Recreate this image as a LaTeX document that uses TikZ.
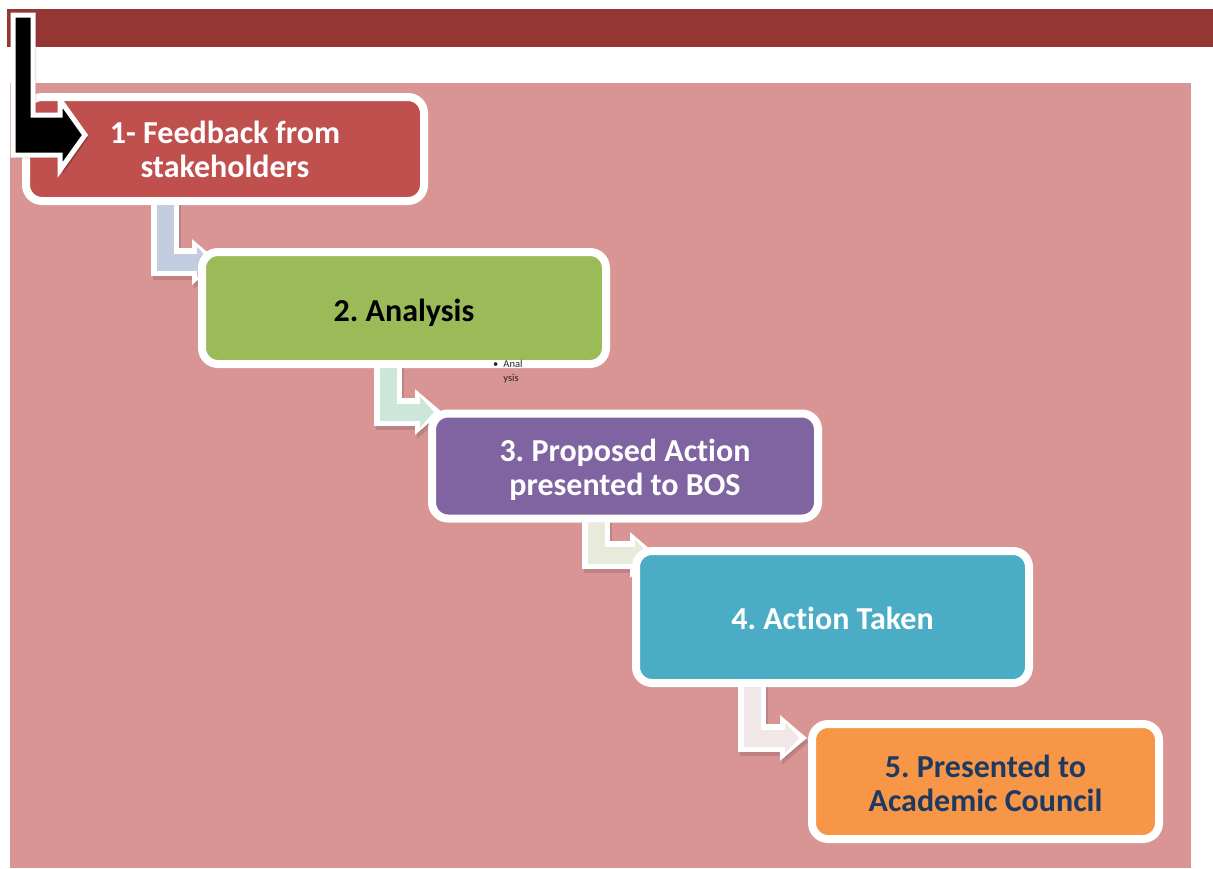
\documentclass[tikz,border=0pt]{standalone}
\usepackage{fontspec}
\setmainfont{Carlito}[Ligatures={NoCommon}]
\usetikzlibrary{arrows.meta,shadows}
\frenchspacing
\definecolor{barred}{HTML}{943634}
\definecolor{bgpink}{HTML}{D99594}
\definecolor{cA}{HTML}{C0504D}
\definecolor{cB}{HTML}{9BBB59}
\definecolor{cC}{HTML}{8064A2}
\definecolor{cD}{HTML}{4BACC6}
\definecolor{cE}{HTML}{F79646}
\definecolor{navy}{HTML}{1F3A60}
\definecolor{kA}{HTML}{C3CDE0}
\definecolor{kB}{HTML}{CDE6DA}
\definecolor{kC}{HTML}{E8EADB}
\definecolor{kD}{HTML}{F2E7E7}
\tikzset{
  stepbox/.style={rounded corners=16pt, draw=white, line width=8pt, inner sep=0pt,
    drop shadow={opacity=0.35, shadow xshift=1pt, shadow yshift=-4pt}},
  steptext/.style={align=center, inner sep=0pt, font=\bfseries\fontsize{32}{34}\selectfont},
  connout/.style={line width=28pt, white, -{Triangle[length=27pt,width=44pt]}},
  connshd/.style={line width=28pt, black, opacity=0.12, -{Triangle[length=27pt,width=44pt]}},
  connin/.style={line width=17pt, -{Triangle[length=14pt,width=30pt]}, shorten >=8pt},
}
\begin{document}
\begin{tikzpicture}[x=1pt,y=-1pt]
\useasboundingbox (0,0) rectangle (1213,868);
\fill[white] (0,0) rectangle (1213,868);
\fill[barred] (7,9) rectangle (1213,47);
\fill[bgpink] (10,83) rectangle (1191,868);

% connector coordinates
\coordinate (s1) at (165,195);  \coordinate (t1) at (219,262);
\coordinate (s2) at (388,360);  \coordinate (t2) at (442,412);
\coordinate (s3) at (596,515);  \coordinate (t3) at (657,555);
\coordinate (s4) at (752,680);  \coordinate (t4) at (807,738);

% connectors
\foreach \s/\t/\c in {s1/t1/kA, s2/t2/kB, s3/t3/kC, s4/t4/kD}{
  \draw[connshd] ([shift={(2,4)}]\s) |- ([shift={(2,4)}]\t);
  \draw[connout] (\s) |- (\t);
  \draw[connin, \c] (\s) |- (\t);
}

% boxes
\node[stepbox, fill=cA, minimum width=398pt, minimum height=104pt] (b1) at (225,149) {};
\node[stepbox, fill=cB, minimum width=404pt, minimum height=112pt] (b2) at (404,308) {};
\node[stepbox, fill=cC, minimum width=386pt, minimum height=105pt] (b3) at (625,466) {};
\node[stepbox, fill=cD, minimum width=393pt, minimum height=132pt] (b4) at (832.5,617) {};
\node[stepbox, fill=cE, minimum width=347pt, minimum height=115pt] (b5) at (985.5,781.5) {};

% box texts
\node[steptext, text=white] (l1) at (b1.center) {1- Feedback from\\stakeholders};
\node[steptext, text=black] (l2) at ([yshift=-5pt]b2.center) {2. Analysis};
\node[steptext, text=white] (l3) at ([yshift=-4pt]b3.center) {3. Proposed Action\\presented to BOS};
\node[steptext, text=white] (l4) at ([yshift=-1pt]b4.center) {4. Action Taken};
\node[steptext, text=navy] (l5) at ([yshift=-2pt]b5.center) {5. Presented to\\Academic Council};

% small note
\node[anchor=north west, inner sep=0pt, font=\fontsize{10.5}{14}\selectfont, text=black!85] (note) at (493,357)
  {\begin{tabular}{@{}l@{\hspace{5pt}}l@{}}\textbullet & Anal\\ & ysis\end{tabular}};

% black bent arrow at top left
\fill[black, opacity=0.25] (16,18) -- (36,18) -- (36,118) -- (63,118) -- (63,103) -- (88,138) -- (63,173) -- (63,158) -- (16,158) -- cycle;
\filldraw[fill=black, draw=white, line width=5pt, line join=miter] (13,15) -- (33,15) -- (33,115) -- (60,115) -- (60,100) -- (85,135) -- (60,170) -- (60,155) -- (13,155) -- cycle;
\end{tikzpicture}
\end{document}
